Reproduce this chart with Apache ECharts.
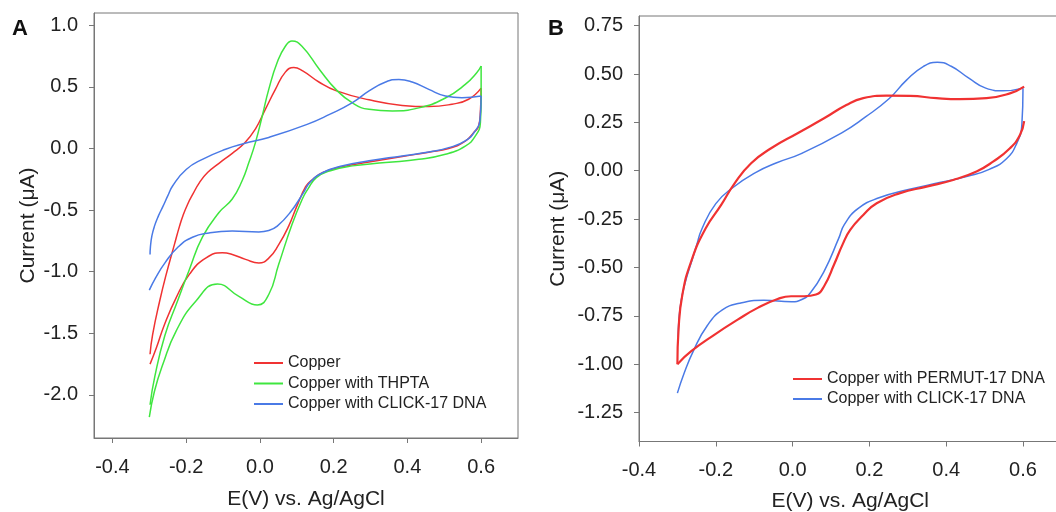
<!DOCTYPE html>
<html><head><meta charset="utf-8">
<script src="https://cdn.jsdelivr.net/npm/echarts@6/dist/echarts.min.js"></script>
<style>html,body{margin:0;padding:0;overflow:hidden;background:#fff;width:1056px;height:512px}#c{width:1064px;height:512px}</style>
</head><body><div id="c"></div>
<script>
// ---- tick labels ----
const xTicks = [-0.4, -0.2, 0, 0.2, 0.4, 0.6];
const yTicksA = [-2, -1.5, -1, -0.5, 0, 0.5, 1];
const yTicksB = [-1.25, -1, -0.75, -0.5, -0.25, 0, 0.25, 0.5, 0.75];

// ---- Panel A: Copper ----
const copperUp = [[-0.298,-1.67],[-0.291,-1.51],[-0.272,-1.24],[-0.254,-1.02],[-0.232,-0.78],[-0.218,-0.63],[-0.209,-0.547],[-0.196,-0.452],[-0.182,-0.371],[-0.164,-0.277],[-0.142,-0.195],[-0.111,-0.12],[-0.075,-0.039],[-0.043,0.04],[-0.012,0.16],[0.015,0.32],[0.042,0.48],[0.069,0.62],[0.092,0.657],[0.116,0.63],[0.16,0.54],[0.206,0.47],[0.296,0.395],[0.386,0.35],[0.458,0.34],[0.521,0.36],[0.566,0.40],[0.6,0.49]];
const copperDown = [[0.6,0.49],[0.598,0.30],[0.593,0.18],[0.580,0.13],[0.557,0.06],[0.512,0.0],[0.458,-0.03],[0.386,-0.065],[0.296,-0.11],[0.225,-0.147],[0.171,-0.195],[0.139,-0.26],[0.124,-0.31],[0.10,-0.47],[0.078,-0.63],[0.051,-0.78],[0.024,-0.89],[-0.003,-0.93],[-0.039,-0.90],[-0.075,-0.86],[-0.102,-0.847],[-0.147,-0.89],[-0.191,-1.02],[-0.227,-1.21],[-0.259,-1.43],[-0.281,-1.62],[-0.298,-1.75]];

// ---- Panel A: Copper with THPTA ----
const thptaUp = [[-0.298,-2.08],[-0.285,-1.85],[-0.258,-1.52],[-0.225,-1.25],[-0.191,-0.98],[-0.156,-0.72],[-0.111,-0.52],[-0.075,-0.41],[-0.048,-0.26],[-0.030,-0.114],[-0.012,0.05],[0.006,0.26],[0.024,0.48],[0.047,0.70],[0.069,0.83],[0.087,0.873],[0.114,0.83],[0.162,0.64],[0.206,0.48],[0.251,0.37],[0.296,0.318],[0.359,0.305],[0.431,0.33],[0.503,0.41],[0.557,0.52],[0.588,0.615],[0.6,0.67]];
const thptaDown = [[0.6,0.67],[0.6,0.40],[0.598,0.21],[0.584,0.10],[0.557,0.02],[0.503,-0.047],[0.431,-0.088],[0.341,-0.114],[0.251,-0.141],[0.189,-0.182],[0.153,-0.236],[0.130,-0.33],[0.115,-0.41],[0.087,-0.617],[0.051,-0.94],[0.024,-1.185],[-0.007,-1.27],[-0.057,-1.20],[-0.115,-1.10],[-0.174,-1.24],[-0.227,-1.48],[-0.263,-1.75],[-0.286,-1.97],[-0.300,-2.18]];

// ---- Copper with CLICK-17 DNA (both panels) ----
const clickUp = [[-0.298,-0.86],[-0.297,-0.80],[-0.293,-0.71],[-0.286,-0.63],[-0.275,-0.545],[-0.263,-0.47],[-0.250,-0.385],[-0.236,-0.30],[-0.200,-0.17],[-0.156,-0.088],[-0.093,-0.006],[-0.043,0.04],[0.024,0.09],[0.128,0.196],[0.189,0.277],[0.251,0.372],[0.296,0.467],[0.341,0.54],[0.377,0.561],[0.413,0.54],[0.458,0.48],[0.503,0.427],[0.548,0.413],[0.6,0.427]];
const clickDown = [[0.6,0.427],[0.597,0.237],[0.584,0.143],[0.557,0.062],[0.512,0.007],[0.458,-0.028],[0.386,-0.06],[0.296,-0.10],[0.225,-0.14],[0.171,-0.195],[0.135,-0.277],[0.120,-0.35],[0.082,-0.52],[0.047,-0.63],[0.024,-0.666],[-0.003,-0.677],[-0.075,-0.67],[-0.138,-0.685],[-0.183,-0.72],[-0.222,-0.80],[-0.258,-0.93],[-0.283,-1.05],[-0.300,-1.15]];

// ---- Panel B: Copper with PERMUT-17 DNA ----
const permutDown = [[0.603,0.257],[0.592,0.185],[0.566,0.116],[0.522,0.047],[0.479,-0.004],[0.418,-0.048],[0.349,-0.082],[0.280,-0.116],[0.219,-0.168],[0.184,-0.229],[0.150,-0.306],[0.130,-0.382],[0.108,-0.485],[0.082,-0.597],[0.061,-0.64],[0.030,-0.649],[-0.004,-0.649],[-0.039,-0.663],[-0.091,-0.709],[-0.143,-0.77],[-0.203,-0.847],[-0.264,-0.933],[-0.300,-1.0]];
const permutUp = [[-0.300,-1.0],[-0.297,-0.82],[-0.287,-0.64],[-0.264,-0.468],[-0.227,-0.30],[-0.186,-0.177],[-0.151,-0.065],[-0.108,0.039],[-0.056,0.116],[0.013,0.194],[0.082,0.271],[0.14,0.34],[0.184,0.375],[0.245,0.388],[0.306,0.387],[0.375,0.375],[0.436,0.37],[0.505,0.375],[0.566,0.40],[0.603,0.435]];

const RED = '#f03232', GREEN = '#3fe63f', BLUE = '#4a7ae6';
const TXT = '#222';
const AX = '#777';
const FONT = 'Liberation Sans, Arial, sans-serif';

function line(name, data, color, axis, width) {
  return { type: 'line', name, data, xAxisIndex: axis, yAxisIndex: axis, smooth: 0.5,
    showSymbol: false, symbol: 'none', color, lineStyle: { color, width: width || 1.5 },
    itemStyle: { color }, animation: false, silent: true, z: 3 };
}
function xAxis(grid, min, max, gap) {
  return { type: 'value', gridIndex: grid, min, max,
    name: 'E(V) vs. Ag/AgCl', nameLocation: 'middle', nameGap: gap,
    nameTextStyle: { fontSize: 21, color: TXT, fontFamily: FONT },
    axisLine: { show: true, onZero: false, lineStyle: { color: AX, width: 1 } },
    axisTick: { show: true, inside: false, length: 5, lineStyle: { color: AX }, customValues: xTicks },
    axisLabel: { fontSize: 20, color: TXT, fontFamily: FONT, margin: 19, customValues: xTicks,
      formatter: v => v.toFixed(1) },
    splitLine: { show: false } };
}
function yAxis(grid, min, max, ticks, dec, gap) {
  return { type: 'value', gridIndex: grid, min, max,
    name: 'Current (\u03BCA)', nameLocation: 'middle', nameGap: gap, nameRotate: 90,
    nameTextStyle: { fontSize: 21, color: TXT, fontFamily: FONT },
    axisLine: { show: true, onZero: false, lineStyle: { color: AX, width: 1 } },
    axisTick: { show: true, inside: false, length: 5, lineStyle: { color: AX }, customValues: ticks },
    axisLabel: { fontSize: 20, color: TXT, fontFamily: FONT, margin: 16, customValues: ticks,
      formatter: v => v.toFixed(dec) },
    splitLine: { show: false } };
}

const chart = echarts.init(document.getElementById('c'), null, { renderer: 'canvas' });
chart.setOption({
  backgroundColor: '#fff',
  animation: false,
  title: [
    { text: 'A', left: 7, top: 13, textStyle: { fontSize: 22, fontWeight: 'bold', color: '#111', fontFamily: FONT } },
    { text: 'B', left: 543, top: 13, textStyle: { fontSize: 22, fontWeight: 'bold', color: '#111', fontFamily: FONT } }
  ],
  grid: [
    { left: 94, top: 13, width: 424, height: 425, show: true, borderColor: AX, borderWidth: 1, backgroundColor: 'transparent', containLabel: false, outerBoundsMode: 'none' },
    { left: 639, top: 16, width: 422.4, height: 425.5, show: true, borderColor: AX, borderWidth: 1, backgroundColor: 'transparent', containLabel: false, outerBoundsMode: 'none' }
  ],
  xAxis: [xAxis(0, -0.45, 0.7, 51), xAxis(1, -0.4, 0.7, 49)],
  yAxis: [yAxis(0, -2.35, 1.1, yTicksA, 1, 55), yAxis(1, -1.4, 0.8, yTicksB, 2, 70)],
  legend: [
    { data: ['Copper', 'Copper with THPTA', 'Copper with CLICK-17 DNA'], orient: 'vertical', left: 254, top: 355,
      icon: 'rect', itemWidth: 29, itemHeight: 2, itemGap: 4.5, padding: 0, selectedMode: false,
      textStyle: { fontSize: 16, color: TXT, fontFamily: FONT, lineHeight: 16 } },
    { data: ['Copper with PERMUT-17 DNA', 'Copper with CLICK-17 DNA'], orient: 'vertical', left: 793, top: 371,
      icon: 'rect', itemWidth: 29, itemHeight: 2, itemGap: 4, padding: 0, selectedMode: false,
      textStyle: { fontSize: 16, color: TXT, fontFamily: FONT, lineHeight: 16 } }
  ],
  series: [
    line('Copper', copperUp, RED, 0),
    line('Copper', copperDown, RED, 0),
    line('Copper with THPTA', thptaUp, GREEN, 0),
    line('Copper with THPTA', thptaDown, GREEN, 0),
    line('Copper with CLICK-17 DNA', clickUp, BLUE, 0),
    line('Copper with CLICK-17 DNA', clickDown, BLUE, 0),
    line('Copper with CLICK-17 DNA', clickUp, BLUE, 1),
    line('Copper with CLICK-17 DNA', clickDown, BLUE, 1),
    line('Copper with PERMUT-17 DNA', permutDown, RED, 1, 2.2),
    line('Copper with PERMUT-17 DNA', permutUp, RED, 1, 2.2)
  ]
});
</script></body></html>
